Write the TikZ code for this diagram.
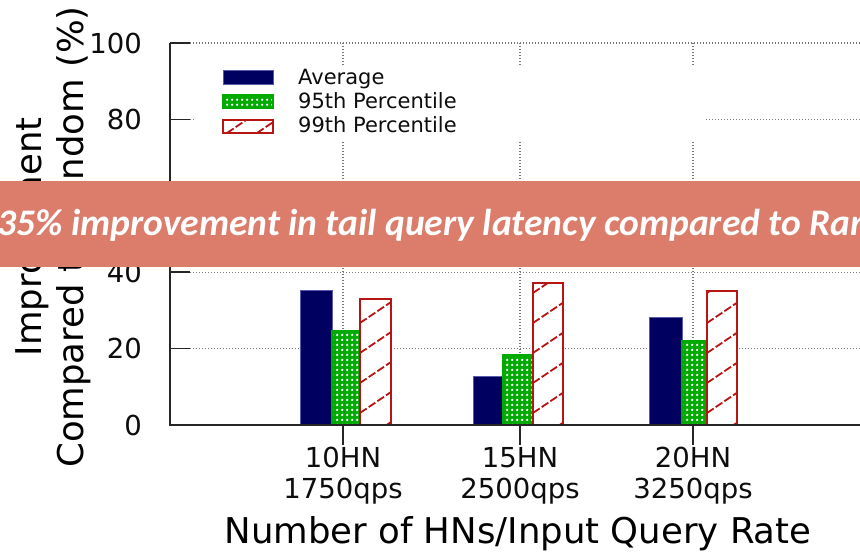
\documentclass[tikz,border=0pt]{standalone}
\usepackage{fontspec}
\setmainfont{DejaVu Sans}
\newfontfamily\bannerfont{Carlito}
\usetikzlibrary{patterns.meta}

\definecolor{navy}{RGB}{0,0,96}
\definecolor{navyedge}{RGB}{90,90,170}
\definecolor{pgreen}{RGB}{0,170,0}
\definecolor{pred}{RGB}{185,20,20}
\definecolor{bannerc}{RGB}{220,124,107}
\definecolor{gridgray}{RGB}{120,120,120}

\tikzdeclarepattern{
  name=holes, type=uncolored,
  bottom left={(0pt,0pt)}, top right={(5pt,5pt)}, tile size={(5pt,5pt)},
  code={\fill (2.5pt,2.5pt) circle (1.5pt);}
}

\tikzset{
  gridline/.style={gridgray, line width=1.4pt, dash pattern=on 1.4pt off 1.6pt},
  axisline/.style={black!85, line width=1.9pt},
  tickmark/.style={black!85, line width=1.7pt},
  ticklab/.style={font=\fontsize{27.5}{31}\selectfont, text=black!95, inner sep=0pt},
  leglab/.style={font=\fontsize{21}{24}\selectfont, text=black!95, inner sep=0pt, anchor=base west},
  avgbar/.style={fill=navy, draw=navyedge, line width=0.8pt},
  hatchline/.style={pred, line width=1.8pt, dash pattern=on 8pt off 2.5pt},
}

\newcommand\greenbar[3]{%
  \fill[pgreen] (#1,#3) rectangle (#2,425);
  \fill[pattern=holes, pattern color=white] (#1,#3) rectangle (#2,425);
  \draw[pgreen, line width=1.7pt] (#1,#3) rectangle (#2,425);
}
\newcommand\redbar[3]{%
  \fill[white] (#1,#3) rectangle (#2,425);
  \begin{scope}
    \clip (#1,#3) rectangle (#2,425);
    \foreach \k in {-1,...,5} \draw[hatchline] (#1,413-30*\k) -- ++(31,-21);
  \end{scope}
  \draw[pred, line width=1.8pt] (#1,#3) rectangle (#2,425);
}

\begin{document}
\begin{tikzpicture}[x=1pt,y=-1pt]
\useasboundingbox (0,0) rectangle (860,552);
\clip (0,0) rectangle (860,552);
\fill[white] (0,0) rectangle (860,552);

% grid
\foreach \yy in {43,119.4,195.8,272.2,348.6}
  \draw[gridline] (190,\yy) -- (860,\yy);
\foreach \xx in {343,520,693}
  \draw[gridline] (\xx,43) -- (\xx,425);

% bars
\draw[avgbar] (300,290) rectangle (332,425);
\greenbar{332}{360}{331}
\redbar{360}{391}{299}

\draw[avgbar] (473,376) rectangle (503,425);
\greenbar{503}{533}{355}
\redbar{533}{563}{283}

\draw[avgbar] (649,317) rectangle (682,425);
\greenbar{682}{707}{341}
\redbar{707}{737}{291}

% axes
\draw[axisline] (170,43) -- (170,425) -- (860,425);
\foreach \yy in {43,119.4,195.8,272.2,348.6}
  \draw[tickmark] (170,\yy) -- (190,\yy);
\foreach \xx in {343,520,693}
  \draw[tickmark] (\xx,425) -- (\xx,445);

% y tick labels
\node[ticklab, anchor=east] (y100) at (142,43) {100};
\node[ticklab, anchor=east] (y80) at (142,119.4) {80};
\node[ticklab, anchor=east] (y40) at (142,272.2) {40};
\node[ticklab, anchor=east] (y20) at (142,348.6) {20};
\node[ticklab, anchor=east] (y0) at (142,425) {0};

% x tick labels
\node[ticklab, anchor=base] (xa1) at (343,467) {10HN};
\node[ticklab, anchor=base] (xa2) at (343,498) {1750qps};
\node[ticklab, anchor=base] (xb1) at (520,467) {15HN};
\node[ticklab, anchor=base] (xb2) at (520,498) {2500qps};
\node[ticklab, anchor=base] (xc1) at (693,467) {20HN};
\node[ticklab, anchor=base] (xc2) at (693,498) {3250qps};

% axis labels
\node[font=\fontsize{35.5}{42}\selectfont, anchor=base, inner sep=0pt] (xlab) at (518,543) {Number of HNs/Input Query Rate};
\node[font=\fontsize{35.5}{42}\selectfont, align=center, rotate=90, inner sep=0pt] (ylab) at (53,237) {Improvement\\Compared to Random (\%)};

% legend
\fill[white] (196,65) rectangle (706,141);
\draw[avgbar] (223,70) rectangle (273,84);
\fill[pgreen] (223,95) rectangle (273,108);
\fill[pattern=holes, pattern color=white] (223,95) rectangle (273,108);
\draw[pgreen, line width=1.7pt] (223,95) rectangle (273,108);
\fill[white] (223,120) rectangle (273,133);
\begin{scope}
  \clip (223,120) rectangle (273,133);
  \draw[hatchline] (227,133) -- ++(31,-21);
  \draw[hatchline] (257,133) -- ++(31,-21);
\end{scope}
\draw[pred, line width=1.8pt] (223,120) rectangle (273,133);
\node[leglab] (lavg) at (298,84) {Average};
\node[leglab] (l95) at (298,108.5) {95th Percentile};
\node[leglab] (l99) at (298,132) {99th Percentile};

% banner
\fill[bannerc] (0,181) rectangle (860,267);
\node[font=\bannerfont\bfseries\itshape\fontsize{37.5}{44}\selectfont, text=white, anchor=base west, inner sep=0pt] (banner) at (-3,235) {35\% improvement in tail query latency compared to Ran};
\end{tikzpicture}
\end{document}
